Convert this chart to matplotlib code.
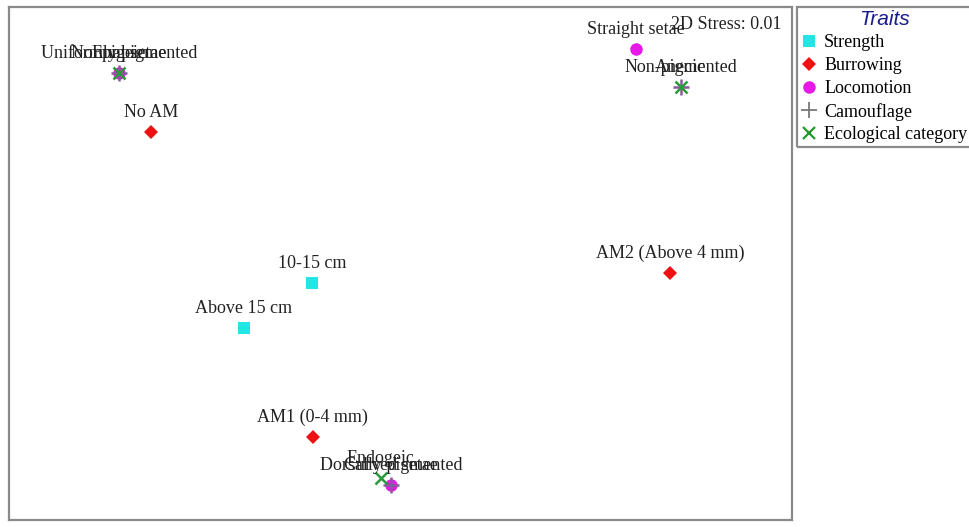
"""
nMDS ordination of trait categories (2D, stress 0.01)
"""
import matplotlib.pyplot as plt
from matplotlib.lines import Line2D
from matplotlib.patches import Rectangle

plt.rcParams['font.family'] = ['Liberation Serif', 'DejaVu Serif']

# trait category labels, their trait group and ordination scores
labels = ['10-15 cm', 'Above 15 cm',
          'No AM', 'AM1 (0-4 mm)', 'AM2 (Above 4 mm)',
          'Straight setae', 'Normal setae', 'Curved setae',
          'Uniformly pigmented', 'Non-pigmented', 'Dorsally pigmented',
          'Epigeic', 'Anecic', 'Endogeic']
groups = ['Strength', 'Strength',
          'Burrowing', 'Burrowing', 'Burrowing',
          'Locomotion', 'Locomotion', 'Locomotion',
          'Camouflage', 'Camouflage', 'Camouflage',
          'Ecological category', 'Ecological category', 'Ecological category']
mds1 = [-0.226, -0.400,
        -0.637, -0.224, 0.688,
        0.602, -0.719, -0.024,
        -0.719, 0.716, -0.024,
        -0.719, 0.716, -0.050]
mds2 = [-0.050, -0.165,
        0.336, -0.443, -0.024,
        0.548, 0.487, -0.566,
        0.487, 0.451, -0.566,
        0.487, 0.451, -0.548]
stress = 0.01

trait_order = ['Strength', 'Burrowing', 'Locomotion', 'Camouflage', 'Ecological category']
style = {
    'Strength': dict(marker='s', color='#22e6e6', ms=8.5, mew=0),
    'Burrowing': dict(marker='D', color='#ee1111', ms=7.5, mew=0),
    'Locomotion': dict(marker='o', color='#e619e6', ms=9, mew=0),
    'Camouflage': dict(marker='+', color='#8a5a9a', ms=11, mew=1.8),
    'Ecological category': dict(marker='x', color='#2a9a3a', ms=8, mew=1.8),
}

fig = plt.figure(figsize=(9.69, 5.27), dpi=100)
ax = fig.add_axes([0.0093, 0.0133, 0.8080, 0.9734])

for g in trait_order:
    xs = [x for x, gg in zip(mds1, groups) if gg == g]
    ys = [y for y, gg in zip(mds2, groups) if gg == g]
    st = style[g]
    ax.plot(xs, ys, linestyle='none', marker=st['marker'], color=st['color'],
            markersize=st['ms'], markeredgewidth=st['mew'], zorder=3)

for lab, x, y in zip(labels, mds1, mds2):
    ax.annotate(lab, (x, y), xytext=(0, 8), textcoords='offset points',
                ha='center', va='bottom', fontsize=13, color='#222222', zorder=4)

ax.text(0.987, 0.983, '2D Stress: %.2f' % stress, transform=ax.transAxes,
        ha='right', va='top', fontsize=13, color='#222222')

ax.set_xlim(-1.0, 1.0)
ax.set_ylim(-0.655, 0.655)
ax.set_xticks([])
ax.set_yticks([])
for sp in ax.spines.values():
    sp.set_color('#8a8a8a')
    sp.set_linewidth(1.6)

# legend, with its box running off the right edge of the figure
leg_colors = {'Camouflage': '#7a7a7a', 'Ecological category': '#1f9a2a'}
leg_mew = {'Camouflage': 1.3, 'Ecological category': 1.6}
handles = [Line2D([], [], linestyle='none', marker=style[g]['marker'],
                  color=leg_colors.get(g, style[g]['color']),
                  markersize=style[g]['ms'],
                  markeredgewidth=leg_mew.get(g, style[g]['mew']))
           for g in trait_order]
leg = fig.legend(handles, trait_order, loc='upper left',
                 bbox_to_anchor=(0.8245, 0.9867), borderaxespad=0,
                 frameon=False, fontsize=13,
                 handlelength=0.8, handletextpad=0.45, labelspacing=0.32,
                 borderpad=0.15, title='Traits')
leg.get_title().set_fontfamily(['Liberation Sans', 'DejaVu Sans'])
leg.get_title().set_fontstyle('italic')
leg.get_title().set_fontsize(15)
leg.get_title().set_color('#1a1a8c')
fig.patches.append(Rectangle((797 / 969, 1 - 147 / 527), 0.3, 140 / 527,
                             transform=fig.transFigure, fill=False,
                             edgecolor='#8a8a8a', linewidth=1.6))

fig.savefig('out.png', dpi=100)
